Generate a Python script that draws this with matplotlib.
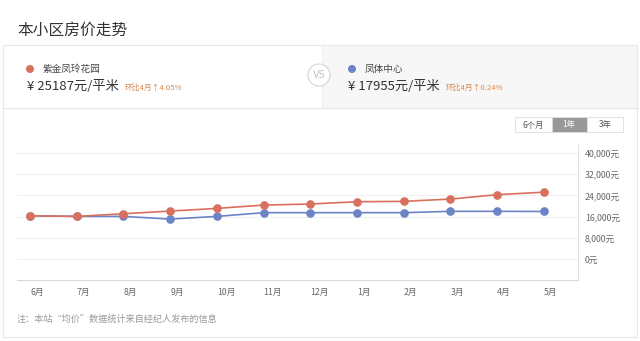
import matplotlib
matplotlib.use("Agg")
import matplotlib.pyplot as plt
from matplotlib.patches import Rectangle, Circle
from matplotlib.ticker import FuncFormatter

plt.rcParams['font.family'] = ['Noto Sans CJK SC', 'DejaVu Sans']

# ---- data ----
months = ["6月", "7月", "8月", "9月", "10月", "11月", "12月", "1月", "2月", "3月", "4月", "5月"]
series_a_name = "紫金凤玲花园"
series_b_name = "凤体中心"
series_a = [16350, 16100, 17100, 18100, 19100, 20350, 20750, 21600, 21750, 22600, 24250, 25187]
series_b = [16350, 16100, 16100, 15100, 16100, 17500, 17500, 17500, 17500, 18000, 18000, 17955]
yticks = [0, 8000, 16000, 24000, 32000, 40000]
price_a = "¥ 25187元/平米"
price_b = "¥ 17955元/平米"
change_a = "环比4月↑4.05%"
change_b = "环比4月↑0.24%"
buttons = ["6个月", "1年", "3年"]

RED = "#d9705f"
BLUE = "#6b84c6"
W, H = 640, 341

fig = plt.figure(figsize=(6.4, 3.41), dpi=100)
fig.patch.set_facecolor("white")

# overlay axes in pixel coordinates
ov = fig.add_axes([0, 0, 1, 1], zorder=0)
ov.set_xlim(0, W)
ov.set_ylim(H, 0)
ov.axis("off")

# title
ov.text(17, 30, "本小区房价走势", fontsize=11.3, color="#333333", va="center", ha="left")

# header box
ov.add_patch(Rectangle((3, 45), 319, 63, facecolor="white", edgecolor="none"))
ov.add_patch(Rectangle((322, 45), 315, 63, facecolor="#f7f7f7", edgecolor="none"))
ov.add_patch(Rectangle((3, 45), 634, 63, facecolor="none", edgecolor="#e8e8e8", lw=0.8))
ov.plot([322, 322], [45, 108], color="#ececec", lw=0.6)
ov.add_patch(Circle((319, 75), 11, facecolor="white", edgecolor="#d5d5d5", lw=0.8, zorder=3))
ov.text(319, 75.5, "VS", fontsize=7, color="#c4c4c4", ha="center", va="center", zorder=4,
        family="DejaVu Sans")

# series A header
ov.add_patch(Circle((30, 69), 4, facecolor=RED, edgecolor="none"))
ov.text(43, 69, series_a_name, fontsize=6.9, color="#444444", va="center")
ov.text(27, 87, price_a, fontsize=9.5, color="#333333", va="center")
ov.text(125, 87.5, change_a, fontsize=5.6, color="#d8864f", va="center")

# series B header
ov.add_patch(Circle((352, 69), 4, facecolor=BLUE, edgecolor="none"))
ov.text(365, 69, series_b_name, fontsize=6.9, color="#444444", va="center")
ov.text(348, 87, price_b, fontsize=9.5, color="#333333", va="center")
ov.text(446, 87.5, change_b, fontsize=5.6, color="#d8864f", va="center")

# chart card
ov.add_patch(Rectangle((3, 108), 634, 229, facecolor="none", edgecolor="#e8e8e8", lw=0.8))

# buttons
bx = [515, 551.7, 586.7, 623]
for i, lab in enumerate(buttons):
    active = (i == 1)
    ov.add_patch(Rectangle((bx[i], 117.3), bx[i + 1] - bx[i], 15,
                           facecolor="#999999" if active else "white",
                           edgecolor="#dddddd", lw=0.6, zorder=2))
    ov.text((bx[i] + bx[i + 1]) / 2, 125, lab, fontsize=6, ha="center", va="center",
            color="white" if active else "#555555", zorder=3)

# footnote
ov.text(17, 319, "注：本站“均价”数据统计来自经纪人发布的信息", fontsize=6.6, color="#999999", va="center")

# ---- main plot ----
left_px, right_px, top_px, bot_px = 16.7, 578, 145, 280
ax = fig.add_axes([left_px / W, (H - bot_px) / H, (right_px - left_px) / W, (bot_px - top_px) / H],
                  zorder=1)
ax.patch.set_alpha(0)
x = list(range(len(months)))
ax.plot(x, series_b, color=BLUE, lw=1.2, marker="o", markersize=5.2, zorder=3)
ax.plot(x, series_a, color=RED, lw=1.2, marker="o", markersize=5.2, zorder=4)

ax.set_xlim(-0.285, 11.73)
ax.set_ylim(-7760, 42890)
ax.set_yticks(yticks)
ax.yaxis.tick_right()
ax.yaxis.set_major_formatter(FuncFormatter(lambda v, p: f"{int(v):,}元"))
ax.tick_params(axis="y", length=0, pad=5, labelsize=6.3, labelcolor="#666666")
ax.grid(axis="y", color="#f0f0f0", lw=0.8)
ax.set_axisbelow(True)

ax.set_xticks(x)
ax.set_xticklabels(months)
ax.tick_params(axis="x", length=0, pad=6, labelsize=6.3, labelcolor="#666666")
for lbl in ax.get_xticklabels():
    lbl.set_horizontalalignment("left")

for s in ["top", "left"]:
    ax.spines[s].set_visible(False)
ax.spines["bottom"].set_color("#d8d8d8")
ax.spines["right"].set_color("#e0e0e0")
ax.spines["bottom"].set_linewidth(0.8)
ax.spines["right"].set_linewidth(0.8)

fig.savefig("out.png", dpi=100)
